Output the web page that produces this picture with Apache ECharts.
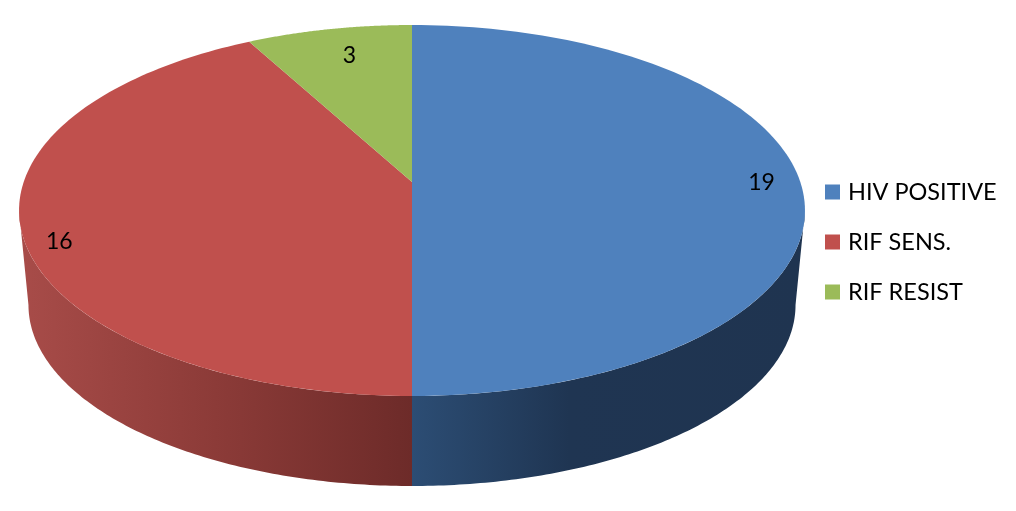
<!DOCTYPE html>
<html>
<head>
<meta charset="utf-8">
<style>
  html, body { margin: 0; padding: 0; background: #fff; }
  #main { width: 1016px; height: 511px; }
</style>
<script src="https://cdn.jsdelivr.net/npm/echarts@6/dist/echarts.min.js"></script>
</head>
<body>
<div id="main"></div>
<script>
var categories = ['HIV POSITIVE', 'RIF SENS.', 'RIF RESIST']
var values = [19, 16, 3]

var topColors = ['#4f81bd', '#c0504d', '#9bbb59']
var sideStops = [
  [[0, '#2c4d74'], [0.4, '#1f3552'], [1, '#1f3450']],
  [[0, '#a84c49'], [0.5, '#8c3b38'], [1, '#6d2b29']],
  [[0, '#6f8a3e'], [1, '#6f8a3e']]
]
// small moves away from the radial label spot, Excel does not place them exactly on it
var labelNudge = [[0, 1], [-2, 18], [13, 13]]

// the pie is tilted with some perspective, so the centre sits above the middle of the ellipse
var cx = 412
var cy = 182
var a = 388.3
var b = 181.1
var k = 0.1536
var ellipseMidY = 210.5
var floorScale = 0.976
var floorMidY = 305
var total = values.reduce(function (s, v) { return s + v }, 0)
// the rim can only be seen between the left and right extreme of the ellipse
var rimFrom = Math.PI / 2 + Math.asin(k)
var rimTo = Math.PI * 1.5 - Math.asin(k)

// angle runs clockwise from 12 o'clock, r is 0..1 of the radius
function project (angle, r) {
  var u = Math.sin(angle) * r
  var v = Math.cos(angle) * r
  var d = 1 + k * v
  return [cx + a * u / d, cy - b * v / d]
}

function projectFloor (angle) {
  var p = project(angle, 1)
  return [cx + (p[0] - cx) * floorScale, floorMidY + (p[1] - ellipseMidY) * floorScale]
}

function arc (from, to, fn) {
  var pts = []
  var steps = 120
  for (var i = 0; i <= steps; i++) {
    pts.push(fn(from + (to - from) * i / steps))
  }
  return pts
}

function renderSlice (params, api) {
  var idx = params.seriesIndex
  var before = 0
  for (var i = 0; i < idx; i++) before += values[i]
  var from = before / total * Math.PI * 2
  var to = from + api.value(0) / total * Math.PI * 2
  var children = []

  var sideFrom = Math.max(from, rimFrom)
  var sideTo = Math.min(to, rimTo)
  if (sideTo > sideFrom) {
    var edge = arc(sideFrom, sideTo, function (t) { return project(t, 1) })
    var floor = arc(sideFrom, sideTo, projectFloor).reverse()
    children.push({
      type: 'polygon',
      shape: { points: edge.concat(floor) },
      style: {
        fill: new echarts.graphic.LinearGradient(0, 0, 1, 0, sideStops[idx].map(function (s) {
          return { offset: s[0], color: s[1] }
        }))
      }
    })
  }

  var face = arc(from, to, function (t) { return project(t, 1) })
  face.push([cx, cy])
  children.push({
    type: 'polygon',
    shape: { points: face },
    style: { fill: topColors[idx] }
  })

  var spot = project((from + to) / 2, 0.9)
  children.push({
    type: 'text',
    z2: 10,
    style: {
      text: String(api.value(0)),
      x: spot[0] + labelNudge[idx][0],
      y: spot[1] + labelNudge[idx][1],
      align: 'center',
      verticalAlign: 'middle',
      fill: '#000',
      font: '23px Lato'
    }
  })
  return { type: 'group', children: children }
}

var myChart = echarts.init(document.getElementById('main'))
myChart.setOption({
  animation: false,
  backgroundColor: '#fff',
  legend: {
    orient: 'vertical',
    left: 825,
    top: 175,
    padding: 0,
    itemWidth: 15,
    itemHeight: 15,
    itemGap: 16,
    icon: 'rect',
    data: categories,
    textStyle: {
      color: '#000',
      fontFamily: 'Lato',
      fontSize: 23.5,
      lineHeight: 34,
      padding: [0, 0, 0, 3]
    }
  },
  series: categories.map(function (name, i) {
    return {
      name: name,
      type: 'custom',
      coordinateSystem: 'none',
      itemStyle: { color: topColors[i] },
      renderItem: renderSlice,
      data: [[values[i]]]
    }
  })
})
</script>
</body>
</html>
